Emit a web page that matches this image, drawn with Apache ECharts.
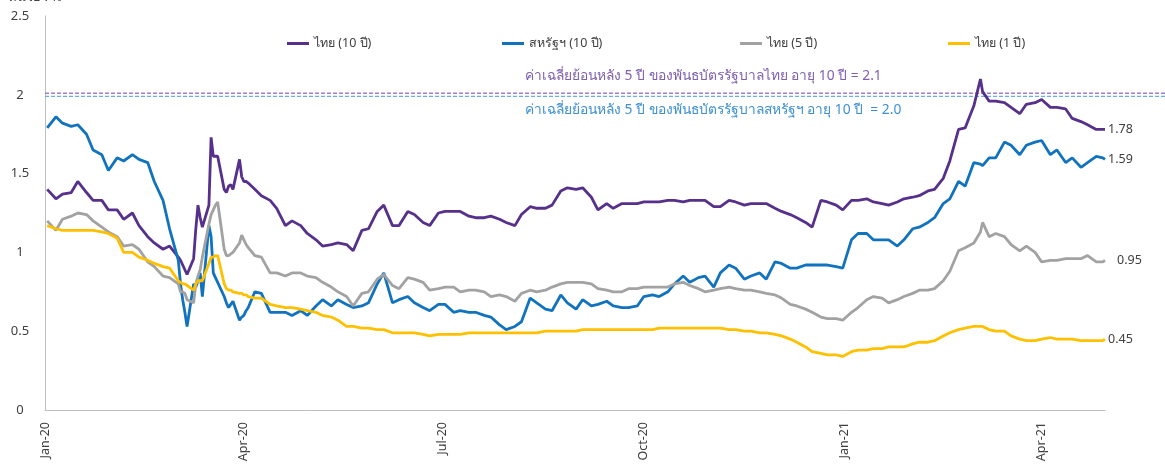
<!DOCTYPE html>
<html>
<head>
<meta charset="utf-8">
<script src="https://cdn.jsdelivr.net/npm/echarts@6/dist/echarts.min.js"></script>
<style>
html,body{margin:0;padding:0;background:#fff;}
#chart{width:1165px;height:466px;}
</style>
</head>
<body>
<div id="chart"></div>
<script>
// ---- DATA ----
const dates = [
  '2020-01-02','2020-01-06','2020-01-09','2020-01-13','2020-01-16','2020-01-20','2020-01-23','2020-01-27','2020-01-30',
  '2020-02-03','2020-02-06','2020-02-10','2020-02-13','2020-02-17','2020-02-20','2020-02-24','2020-02-27',
  '2020-03-02','2020-03-03','2020-03-04','2020-03-05','2020-03-06','2020-03-09','2020-03-10','2020-03-11','2020-03-12','2020-03-13','2020-03-16','2020-03-17','2020-03-18','2020-03-19','2020-03-20','2020-03-23','2020-03-24','2020-03-25','2020-03-26','2020-03-27','2020-03-30','2020-03-31',
  '2020-04-01','2020-04-02','2020-04-03','2020-04-06','2020-04-09','2020-04-13','2020-04-16','2020-04-20','2020-04-23','2020-04-27','2020-04-30',
  '2020-05-04','2020-05-07','2020-05-11','2020-05-14','2020-05-18','2020-05-21','2020-05-25','2020-05-28',
  '2020-06-01','2020-06-04','2020-06-08','2020-06-11','2020-06-15','2020-06-18','2020-06-22','2020-06-25','2020-06-29',
  '2020-07-02','2020-07-06','2020-07-09','2020-07-13','2020-07-16','2020-07-20','2020-07-23','2020-07-27','2020-07-30',
  '2020-08-03','2020-08-06','2020-08-10','2020-08-13','2020-08-17','2020-08-20','2020-08-24','2020-08-27','2020-08-31',
  '2020-09-03','2020-09-07','2020-09-10','2020-09-14','2020-09-17','2020-09-21','2020-09-24','2020-09-28',
  '2020-10-01','2020-10-05','2020-10-08','2020-10-12','2020-10-15','2020-10-19','2020-10-22','2020-10-26','2020-10-29',
  '2020-11-02','2020-11-05','2020-11-09','2020-11-12','2020-11-16','2020-11-19','2020-11-23','2020-11-26','2020-11-30',
  '2020-12-03','2020-12-07','2020-12-10','2020-12-14','2020-12-17','2020-12-21','2020-12-24','2020-12-28','2020-12-31',
  '2021-01-04','2021-01-07','2021-01-11','2021-01-14','2021-01-18','2021-01-21','2021-01-25','2021-01-28',
  '2021-02-01','2021-02-04','2021-02-08','2021-02-11','2021-02-15','2021-02-18','2021-02-22','2021-02-25',
  '2021-03-01','2021-03-04','2021-03-05','2021-03-08','2021-03-11','2021-03-15','2021-03-18','2021-03-22','2021-03-25','2021-03-29',
  '2021-04-01','2021-04-05','2021-04-08','2021-04-12','2021-04-15','2021-04-19','2021-04-22','2021-04-26','2021-04-29','2021-04-30'
];

const thai10 = [
  1.40,1.34,1.37,1.38,1.45,1.38,1.33,1.33,1.27,
  1.27,1.21,1.25,1.17,1.10,1.06,1.02,1.04,
  0.97,0.95,0.92,0.89,0.86,0.96,1.15,1.30,1.22,1.16,1.30,1.73,1.61,1.61,1.61,1.40,1.38,1.42,1.43,1.40,1.59,1.48,
  1.45,1.45,1.44,1.40,1.36,1.33,1.28,1.17,1.20,1.17,1.12,
  1.08,1.04,1.05,1.06,1.05,1.01,1.14,1.15,
  1.26,1.30,1.17,1.17,1.26,1.24,1.19,1.17,1.25,
  1.26,1.26,1.26,1.23,1.22,1.22,1.23,1.21,1.19,
  1.17,1.24,1.29,1.28,1.28,1.30,1.39,1.41,1.40,
  1.41,1.35,1.27,1.31,1.28,1.31,1.31,1.31,
  1.32,1.32,1.32,1.33,1.33,1.32,1.33,1.33,1.33,
  1.29,1.29,1.33,1.32,1.30,1.31,1.31,1.31,1.28,
  1.26,1.24,1.22,1.19,1.16,1.33,1.32,1.30,1.27,
  1.33,1.33,1.34,1.32,1.31,1.30,1.32,1.34,
  1.35,1.36,1.39,1.40,1.47,1.58,1.78,1.79,
  1.93,2.10,2.02,1.96,1.96,1.95,1.92,1.88,1.94,1.95,
  1.97,1.92,1.92,1.91,1.85,1.83,1.81,1.78,1.78,1.78
];

const us10 = [
  1.79,1.86,1.82,1.80,1.81,1.75,1.65,1.62,1.52,
  1.60,1.58,1.62,1.59,1.57,1.45,1.33,1.15,
  0.95,0.80,0.70,0.62,0.53,0.80,0.78,0.82,0.87,0.72,1.17,1.10,0.87,0.84,0.81,0.72,0.68,0.65,0.67,0.69,0.57,0.59,
  0.60,0.63,0.65,0.75,0.74,0.62,0.62,0.62,0.60,0.63,0.60,
  0.66,0.70,0.66,0.70,0.67,0.65,0.66,0.68,
  0.80,0.87,0.68,0.70,0.72,0.68,0.65,0.63,0.67,
  0.67,0.62,0.63,0.62,0.62,0.60,0.59,0.54,0.51,
  0.53,0.56,0.71,0.68,0.64,0.63,0.73,0.68,0.64,
  0.70,0.66,0.67,0.69,0.66,0.65,0.65,0.66,
  0.72,0.73,0.72,0.75,0.80,0.85,0.81,0.84,0.85,
  0.78,0.87,0.92,0.90,0.83,0.85,0.87,0.83,0.94,
  0.93,0.90,0.90,0.92,0.92,0.92,0.92,0.91,0.90,
  1.08,1.12,1.12,1.08,1.08,1.08,1.04,1.08,
  1.15,1.16,1.19,1.22,1.31,1.34,1.45,1.42,
  1.57,1.56,1.55,1.60,1.60,1.70,1.68,1.62,1.68,1.70,
  1.71,1.62,1.65,1.57,1.60,1.54,1.57,1.61,1.60,1.59
];

const thai5 = [
  1.20,1.14,1.21,1.23,1.25,1.24,1.20,1.16,1.13,
  1.10,1.04,1.05,1.02,0.94,0.91,0.85,0.84,
  0.80,0.75,0.75,0.74,0.70,0.68,0.80,0.85,0.89,0.97,1.18,1.24,1.27,1.30,1.32,1.02,0.98,0.98,0.99,1.00,1.06,1.11,
  1.08,1.05,1.03,0.98,0.97,0.87,0.87,0.85,0.87,0.87,0.85,
  0.84,0.81,0.78,0.75,0.72,0.66,0.74,0.75,
  0.83,0.86,0.79,0.77,0.84,0.83,0.81,0.76,0.77,
  0.78,0.78,0.75,0.76,0.76,0.75,0.72,0.73,0.72,
  0.69,0.74,0.76,0.75,0.76,0.78,0.80,0.81,0.81,
  0.81,0.80,0.77,0.76,0.75,0.75,0.77,0.77,
  0.78,0.78,0.78,0.78,0.80,0.81,0.79,0.77,0.75,
  0.76,0.77,0.78,0.77,0.76,0.76,0.75,0.74,0.73,
  0.71,0.67,0.66,0.64,0.62,0.59,0.58,0.58,0.57,
  0.62,0.65,0.70,0.72,0.71,0.68,0.70,0.72,
  0.74,0.76,0.76,0.77,0.82,0.88,1.01,1.03,
  1.06,1.13,1.19,1.10,1.12,1.10,1.05,1.01,1.04,1.00,
  0.94,0.95,0.95,0.96,0.96,0.96,0.98,0.94,0.94,0.95
];

const thai1 = [
  1.17,1.15,1.14,1.14,1.14,1.14,1.14,1.13,1.12,
  1.09,1.00,1.00,0.97,0.95,0.93,0.91,0.90,
  0.82,0.81,0.80,0.80,0.79,0.76,0.80,0.82,0.82,0.82,0.93,0.97,0.97,0.98,0.98,0.80,0.77,0.76,0.76,0.75,0.74,0.74,
  0.73,0.73,0.72,0.71,0.71,0.67,0.66,0.65,0.65,0.64,0.63,
  0.62,0.60,0.59,0.57,0.53,0.53,0.52,0.52,
  0.51,0.51,0.49,0.49,0.49,0.49,0.48,0.47,0.48,
  0.48,0.48,0.48,0.49,0.49,0.49,0.49,0.49,0.49,
  0.49,0.49,0.49,0.49,0.50,0.50,0.50,0.50,0.50,
  0.51,0.51,0.51,0.51,0.51,0.51,0.51,0.51,
  0.51,0.51,0.52,0.52,0.52,0.52,0.52,0.52,0.52,
  0.52,0.52,0.51,0.51,0.50,0.50,0.49,0.49,0.48,
  0.47,0.45,0.43,0.40,0.37,0.36,0.35,0.35,0.34,
  0.37,0.38,0.38,0.39,0.39,0.40,0.40,0.40,
  0.42,0.43,0.43,0.44,0.47,0.49,0.51,0.52,
  0.53,0.53,0.53,0.51,0.50,0.50,0.47,0.45,0.44,0.44,
  0.45,0.46,0.45,0.45,0.45,0.44,0.44,0.44,0.44,0.45
];

const seriesNames = ['ไทย (10 ปี)', 'สหรัฐฯ (10 ปี)', 'ไทย (5 ปี)', 'ไทย (1 ปี)'];
const avgValues = [2.01, 1.99];
const avgTexts = [
  'ค่าเฉลี่ยย้อนหลัง 5 ปี ของพันธบัตรรัฐบาลไทย อายุ 10 ปี = 2.1',
  'ค่าเฉลี่ยย้อนหลัง 5 ปี ของพันธบัตรรัฐบาลสหรัฐฯ อายุ 10 ปี  = 2.0'
];
const unitText = 'หน่วย : %';
const xTickDates = ['2020-01-01','2020-04-01','2020-07-01','2020-10-01','2021-01-01','2021-04-01'];
const xTickLabels = ['Jan-20','Apr-20','Jul-20','Oct-20','Jan-21','Apr-21'];
const xRange = ['2020-01-01','2021-04-30'];
const yMin = 0, yMax = 2.5, yStep = 0.5;

// ---- CHART ----
function toTs(s){ const p = s.split('-').map(Number); return new Date(p[0], p[1]-1, p[2]).getTime(); }
const ts = dates.map(toTs);
const tickTs = xTickDates.map(toTs);
function pairs(vals){ return vals.map((v,i)=>[ts[i], v]); }

const FONT = "'Noto Sans', 'DejaVu Sans', Tahoma, sans-serif";
const TXT = '#404040';
const colors = ['#56308A', '#1173BE', '#A2A2A2', '#FFC000'];
const avgColors = ['#9A80C8', '#6AAEE4'];
const vals = [thai10, us10, thai5, thai1];
const labelDist = [3, 3, 12, 3];

const chart = echarts.init(document.getElementById('chart'), null, {renderer:'canvas'});

const mainSeries = vals.map((v, i) => ({
  name: seriesNames[i],
  type: 'line',
  xAxisIndex: 0, yAxisIndex: 0,
  data: pairs(v),
  showSymbol: false,
  symbol: 'none',
  lineStyle: {width: 2.8, color: colors[i]},
  itemStyle: {color: colors[i]},
  endLabel: {
    show: true,
    distance: labelDist[i],
    color: TXT,
    fontSize: 12.5,
    fontFamily: FONT,
    formatter: p => p.value[1].toFixed(2)
  },
  emphasis: {disabled: true}
}));

const avgSeries = avgValues.map((v, i) => ({
  name: 'avg' + i,
  type: 'line',
  xAxisIndex: 1, yAxisIndex: 1,
  data: [[0, v], [1, v]],
  symbol: 'none',
  lineStyle: {width: 1.4, color: avgColors[i], type: [4, 2]},
  silent: true,
  z: 1
}));

const legendLeft = [282, 497, 735, 943];

chart.setOption({
  animation: false,
  textStyle: {fontFamily: FONT},
  grid: [
    {left: 45, right: 60, top: 16, bottom: 56},
    {left: 45, right: 0, top: 16, bottom: 56}
  ],
  legend: seriesNames.map((n, i) => ({
    data: [n],
    left: legendLeft[i],
    top: 32,
    icon: 'rect',
    itemWidth: 22,
    itemHeight: 3,
    itemGap: 5,
    textStyle: {color: TXT, fontSize: 12.5, fontFamily: FONT},
    selectedMode: false
  })),
  xAxis: [
    {
      type: 'value',
      gridIndex: 0,
      min: toTs(xRange[0]),
      max: toTs(xRange[1]),
      axisLine: {show: true, lineStyle: {color: '#BFBFBF', width: 1}},
      axisTick: {show: false},
      splitLine: {show: false},
      axisLabel: {
        customValues: tickTs,
        rotate: 90,
        margin: 12,
        color: TXT,
        fontSize: 12.5,
        fontFamily: FONT,
        formatter: function (val) {
          for (let i = 0; i < tickTs.length; i++) {
            if (Math.abs(tickTs[i] - val) < 43200000) return xTickLabels[i];
          }
          return '';
        }
      }
    },
    {type: 'value', gridIndex: 1, min: 0, max: 1, show: false}
  ],
  yAxis: [
    {
      type: 'value',
      gridIndex: 0,
      min: yMin, max: yMax, interval: yStep,
      axisLine: {show: true, lineStyle: {color: '#BFBFBF', width: 1}},
      axisTick: {show: false},
      splitLine: {show: false},
      axisLabel: {color: TXT, fontSize: 13, fontFamily: FONT, align: 'center', margin: 25}
    },
    {type: 'value', gridIndex: 1, min: yMin, max: yMax, show: false}
  ],
  graphic: [
    {type: 'text', left: 8, top: -9, style: {text: unitText, fill: TXT, font: '13px ' + FONT}},
    {type: 'text', left: 525, top: 69, style: {text: avgTexts[0], fill: '#7E5FB0', font: '13.8px ' + FONT}},
    {type: 'text', left: 525, top: 103, style: {text: avgTexts[1], fill: '#3E8FD2', font: '13.8px ' + FONT}}
  ],
  series: avgSeries.concat(mainSeries)
});
</script>
</body>
</html>
